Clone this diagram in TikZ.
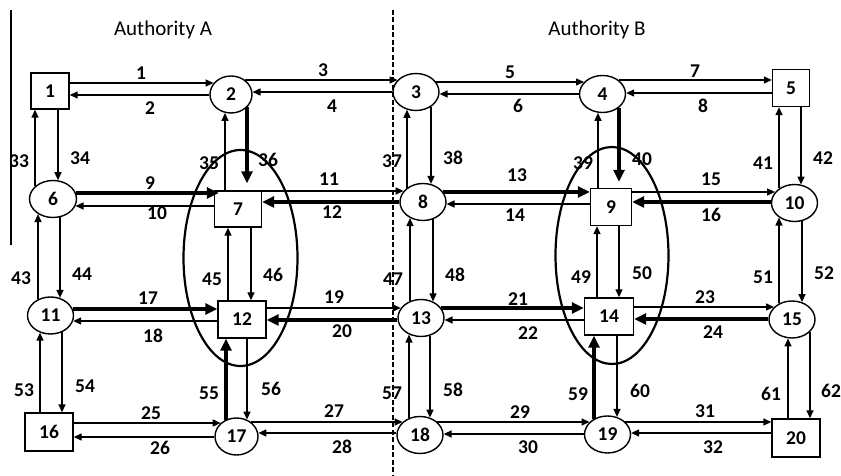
\documentclass[tikz,border=0pt]{standalone}
\usepackage{fontspec}
\setmainfont{Carlito}
\usetikzlibrary{arrows.meta,calc,shapes.geometric}
\newcommand\hedge[6]{%
  \draw[#1] let \p1=(#2), \p2=(#2.east), \p3=(#2.north), \p4=(#4), \p5=(#4.west), \p6=(#4.north) in
   ({\x1+(\x2-\x1)*(1-#3+#3*sqrt(max(0,1-((#6-\y1)/(\y3-\y1))^2)))}, #6) --
   ({\x4-(\x4-\x5)*(1-#5+#5*sqrt(max(0,1-((#6-\y4)/(\y6-\y4))^2)))}, #6);}
\newcommand\vedge[6]{%
  \draw[#1] let \p1=(#2), \p2=(#2.south), \p3=(#2.east), \p4=(#4), \p5=(#4.north), \p6=(#4.east) in
   (#6, {\y1-(\y1-\y2)*(1-#3+#3*sqrt(max(0,1-((#6-\x1)/(\x3-\x1))^2)))}) --
   (#6, {\y4+(\y5-\y4)*(1-#5+#5*sqrt(max(0,1-((#6-\x4)/(\x6-\x4))^2)))});}
\begin{document}
\begin{tikzpicture}[x=1pt,y=1pt,
  numfont/.style={font=\bfseries\fontsize{19.5}{22}\selectfont},
  box/.style={draw, line width=1.4pt, rectangle, inner sep=0pt, numfont},
  oval/.style={draw, line width=1.4pt, ellipse, inner sep=0pt, minimum width=46pt, minimum height=37pt, numfont},
  thinR/.style={line width=1.4pt, -{Triangle[length=8pt,width=7pt]}},
  thinL/.style={line width=1.4pt, {Triangle[length=8pt,width=7pt]}-},
  thickR/.style={line width=4pt, -{Triangle[length=12pt,width=11pt]}},
  thickL/.style={line width=4pt, {Triangle[length=12pt,width=11pt]}-},
  lab/.style={numfont, inner sep=0pt},
  zone/.style={draw, ellipse, line width=2.2pt, inner sep=0pt},
  title/.style={font=\fontsize{21}{25}\selectfont, inner sep=0pt}
]
\useasboundingbox (0,0) rectangle (841,476);
\fill[white] (0,0) rectangle (841,476);

% boundaries
\draw[line width=1.2pt] (11,466) -- (11,231);
\draw[line width=2pt, dash pattern=on 5pt off 2.5pt] (393,466) -- (393,0);

\node[title] (authA) at (163,446) {Authority A};
\node[title] (authB) at (597,446) {Authority B};

% nodes
\node[box, minimum width=38pt, minimum height=36pt] (n1) at (50,385) {1};
\node[oval, minimum width=42pt] (n2) at (231,381.5) {2};
\node[oval] (n3) at (416,384) {3};
\node[oval] (n4) at (602.5,382) {4};
\node[box, minimum width=37pt, minimum height=37pt] (n5) at (791,388) {5};
\node[oval, minimum width=47pt] (n6) at (53,277) {6};
\node[box, minimum width=47pt, minimum height=36pt] (n7) at (238,267) {7};
\node[oval] (n8) at (423,274) {8};
\node[box, minimum width=41pt, minimum height=37pt] (n9) at (611,269) {9};
\node[oval] (n10) at (794.5,273) {10};
\node[oval] (n11) at (50.5,160.5) {11};
\node[box, minimum width=48pt, minimum height=37pt] (n12) at (242,156.5) {12};
\node[oval] (n13) at (421,158) {13};
\node[box, minimum width=49pt, minimum height=37pt] (n14) at (609,159.5) {14};
\node[oval] (n15) at (792,156.5) {15};
\node[box, minimum width=48pt, minimum height=38pt] (n16) at (49,44) {16};
\node[oval, minimum width=43pt] (n17) at (236.5,39.5) {17};
\node[oval] (n18) at (420,41) {18};
\node[oval] (n19) at (607.5,41.5) {19};
\node[box, minimum width=48pt, minimum height=38pt] (n20) at (796,38) {20};

% horizontal links
\hedge{thinR}{n1}{0}{n2}{1}{393}
\hedge{thinL}{n1}{0}{n2}{1}{381}
\hedge{thinR}{n2}{1}{n3}{1}{396}
\hedge{thinL}{n2}{1}{n3}{1}{384}
\hedge{thinR}{n3}{1}{n4}{1}{394}
\hedge{thinL}{n3}{1}{n4}{1}{382}
\hedge{thinR}{n4}{1}{n5}{0}{396}
\hedge{thinL}{n4}{1}{n5}{0}{383}
\hedge{thickR,shorten >=-5pt}{n6}{1}{n7}{0}{283}
\hedge{thinL}{n6}{1}{n7}{0}{270}
\hedge{thinR}{n7}{0}{n8}{1}{285}
\hedge{thickL}{n7}{0}{n8}{1}{274}
\hedge{thickR}{n8}{1}{n9}{0}{284}
\hedge{thinL}{n8}{1}{n9}{0}{272}
\hedge{thinR}{n9}{0}{n10}{1}{284}
\hedge{thickL}{n9}{0}{n10}{1}{274}
\hedge{thickR}{n11}{1}{n12}{0}{167}
\hedge{thinL}{n11}{1}{n12}{0}{155}
\hedge{thinR}{n12}{0}{n13}{1}{168}
\hedge{thickL}{n12}{0}{n13}{1}{156}
\hedge{thickR}{n13}{1}{n14}{0}{168}
\hedge{thinL}{n13}{1}{n14}{0}{156}
\hedge{thinR}{n14}{0}{n15}{1}{169}
\hedge{thickL}{n14}{0}{n15}{1}{157}
\hedge{thinR}{n16}{0}{n17}{1}{53}
\hedge{thinL}{n16}{0}{n17}{1}{39}
\hedge{thinR}{n17}{1}{n18}{1}{54}
\hedge{thinL}{n17}{1}{n18}{1}{43}
\hedge{thinR}{n18}{1}{n19}{1}{54}
\hedge{thinL}{n18}{1}{n19}{1}{42}
\hedge{thinR}{n19}{1}{n20}{0}{54}
\hedge{thinL}{n19}{1}{n20}{0}{43}

% vertical links
\vedge{thinL}{n1}{0}{n6}{1}{35}
\vedge{thinR}{n1}{0}{n6}{1}{58}
\vedge{thinL}{n2}{1}{n7}{0}{225}
\vedge{thickR,shorten >=7pt}{n2}{1}{n7}{0}{247}
\vedge{thinL}{n3}{1}{n8}{1}{407}
\vedge{thinR}{n3}{1}{n8}{1}{431}
\vedge{thinL}{n4}{1}{n9}{0}{598}
\vedge{thickR,shorten >=6pt}{n4}{1}{n9}{0}{619}
\vedge{thinL}{n5}{0}{n10}{1}{779}
\vedge{thinR}{n5}{0}{n10}{1}{801}
\vedge{thinL}{n6}{1}{n11}{1}{38}
\vedge{thinR}{n6}{1}{n11}{1}{60}
\vedge{thinL}{n7}{0}{n12}{0}{228}
\vedge{thinR}{n7}{0}{n12}{0}{251}
\vedge{thinL}{n8}{1}{n13}{1}{410}
\vedge{thinR}{n8}{1}{n13}{1}{433}
\vedge{thinL}{n9}{0}{n14}{0}{597}
\vedge{thinR}{n9}{0}{n14}{0}{619}
\vedge{thinL}{n10}{1}{n15}{1}{779}
\vedge{thinR}{n10}{1}{n15}{1}{802}
\vedge{thinL}{n11}{1}{n16}{0}{40}
\vedge{thinR}{n11}{1}{n16}{0}{62}
\vedge{thickL}{n12}{0}{n17}{1}{226}
\vedge{thinR}{n12}{0}{n17}{1}{247}
\vedge{thinL}{n13}{1}{n18}{1}{409}
\vedge{thinR}{n13}{1}{n18}{1}{430}
\vedge{thickL}{n14}{0}{n19}{1}{594}
\vedge{thinR}{n14}{0}{n19}{1}{617}
\vedge{thinL}{n15}{1}{n20}{0}{788}
\vedge{thinR}{n15}{1}{n20}{0}{810}

% link labels
\foreach \t/\x/\y in {1/141/403, 2/150/368, 3/323/406, 4/332/370, 5/510/404, 6/518/370, 7/695/405, 8/703/370,
  9/150/293, 10/157/263, 11/329/297, 12/332/264, 13/517/301, 14/515/261, 15/711/297, 16/711/261,
  17/148/178, 18/153/140, 19/334/179, 20/342/145, 21/518/177, 22/528/143, 23/705/179, 24/713/144,
  25/151/63, 26/160/28, 27/334/65, 28/342/29, 29/520/64, 30/528/29, 31/705/65, 32/713/29,
  33/19/315, 34/80/318, 35/209/313, 36/268/316, 37/392/315, 38/453/318, 39/583/313, 40/642/317, 41/763/313, 42/823/318,
  43/21/198, 44/82/202, 45/212/197, 46/273/201, 47/393/197, 48/455/201, 49/581/199, 50/642/203, 51/763/199, 52/824/203,
  53/24/86, 54/85/90, 55/209/83, 56/271/87, 57/392/83, 58/453/86, 59/578/82, 60/640/85, 61/771/82, 62/831/85}
  \node[lab] (l\t) at (\x,\y) {\t};

% zones
\node[zone, minimum width=114pt, minimum height=216pt] (zA) at (240.5,218) {};
\node[zone, minimum width=113pt, minimum height=217pt] (zB) at (612,220.5) {};
\end{tikzpicture}
\end{document}
